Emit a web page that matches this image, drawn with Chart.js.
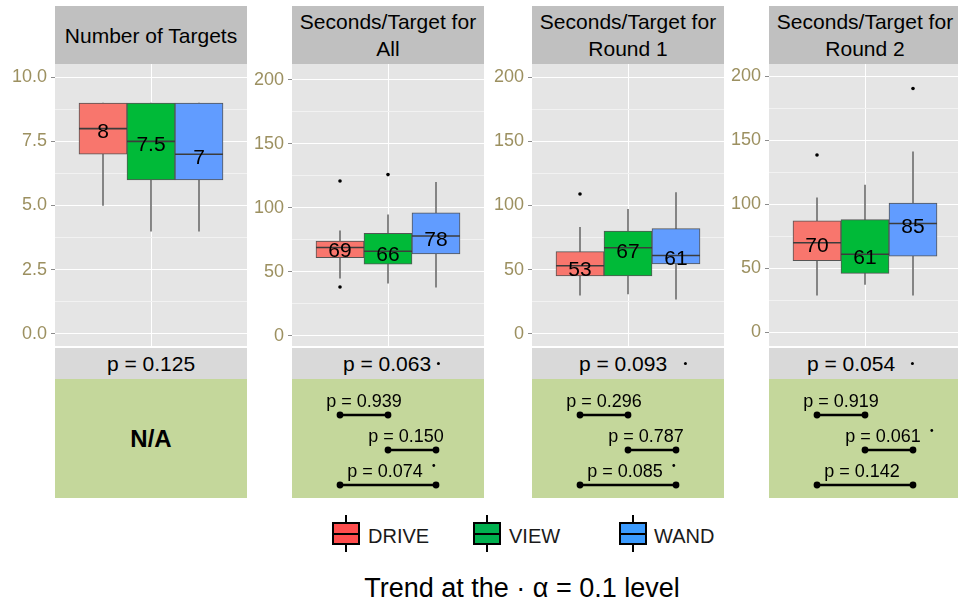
<!DOCTYPE html>
<html>
<head>
<meta charset="utf-8">
<title>Targets and seconds per target by interface</title>
<script src="https://cdn.jsdelivr.net/npm/chart.js@4.4.1/dist/chart.umd.min.js"></script>
<style>
  html, body { margin: 0; padding: 0; background: #fff; }
  body { position: relative; width: 958px; height: 607px; overflow: hidden;
         font-family: "Liberation Sans", Arial, sans-serif; color: #000; }
  .abs { position: absolute; }
  .strip-title { background: #C0C0C0; font-size: 21px; line-height: 27px; text-align: center;
                 display: flex; align-items: center; justify-content: center; white-space: pre-line; }
  .strip-p { background: #D9D9D9; }
  .strip-p .ptext { position: absolute; top: 0; font-size: 21px; line-height: 31px;
                    white-space: nowrap; transform: translateX(-50%); }
  .trend-dot { position: absolute; width: 3px; height: 3px; border-radius: 50%; background: #000; }
  .green { background: #C4D79B; }
  .na { position: absolute; left: 0; right: 0; top: 0; bottom: 0; display: flex;
        align-items: center; justify-content: center; font-weight: bold; font-size: 24px; }
  .key { position: absolute; width: 28px; height: 23px; box-sizing: border-box; border: 2px solid #000; }
  .key::before { content: ""; position: absolute; left: 0; right: 0; top: 8.5px; height: 2px; background: #000; }
  .key .stub { position: absolute; left: 11px; width: 2px; height: 7px; background: #000; }
  .legend-label { position: absolute; font-size: 20px; line-height: 24px; color: #1a1a1a; white-space: nowrap; }
  .caption { position: absolute; font-size: 27px; line-height: 30px; white-space: nowrap; transform: translateX(-50%); }
</style>
</head>
<body>
<script>
// ---------- data ----------
const groups = ['DRIVE', 'VIEW', 'WAND'];
const panelTitles = ['Number of Targets', 'Seconds/Target for\nAll',
                     'Seconds/Target for\nRound 1', 'Seconds/Target for\nRound 2'];

// box statistics per panel, one entry per group (DRIVE, VIEW, WAND)
const whiskerLow  = [[5, 4, 4],     [45, 41, 38],    [30, 31, 27],     [29, 37.5, 29]];
const q1Values    = [[7, 6, 6],     [61, 56, 64],    [45, 45, 54.5],   [56, 46, 59.5]];
const medianValues= [[8, 7.5, 7],   [69, 66, 78],    [53, 67, 61],     [70, 61, 85]];
const q3Values    = [[9, 9, 9],     [74, 80, 96],    [64, 80, 82],     [87, 88, 101]];
const whiskerHigh = [[9, 9, 9],     [82, 94.5, 120], [83, 97, 110],    [105, 115, 141]];
const outlierValues = [[[], [], []], [[121, 38], [126], []], [[109], [], []], [[138.5], [], [190.5]]];

// y axis tick spacing and label decimals per panel
const yTickStep = [2.5, 50, 50, 50];
const yTickDecimals = [1, 0, 0, 0];

// overall test per panel
const overallP = [0.125, 0.063, 0.093, 0.054];

// pairwise comparisons (group index pairs) and their p values
const comparisonPairs = [[0, 1], [1, 2], [0, 2]];
const pairwiseP = [null, [0.939, 0.150, 0.074], [0.296, 0.787, 0.085], [0.919, 0.061, 0.142]];
const trendLevel = 0.1;

// ---------- layout & style ----------
const FONT = "'Liberation Sans', Arial, sans-serif";
const panelLeft = [55, 292, 532, 769];
const PLOT_W = 192, AXIS_W = 50;
const HEAD_TOP = 6, HEAD_H = 58;
const PLOT_TOP = 64, PLOT_H = 282;
const STRIP_TOP = 348, STRIP_H = 31;
const GREEN_TOP = 379, GREEN_H = 119;
const yRange = [[-0.48, 10.52], [-8.1, 212.5], [-9.6, 210.4], [-10.7, 209.6]];
const boxColors = ['#F8766D', '#00BA38', '#619CFF'];
const legendColors = ['#FF4D4D', '#00B04F', '#3B9BFF'];
const pTextShift = [0, -1, -5, -14];
const pDotGap = [0, 7, 18, 17];
const pairLabelShift = [0, -6, -3];

function el(cls, css, parent) {
  const d = document.createElement('div');
  d.className = cls;
  Object.assign(d.style, css);
  (parent || document.body).appendChild(d);
  return d;
}
function fmtP(v) { return 'p = ' + v.toFixed(3); }

// grey plot background behind the grid
const plotBackground = {
  id: 'plotBackground',
  beforeDraw(chart) {
    const { ctx, chartArea: a } = chart;
    ctx.save();
    ctx.fillStyle = '#E5E5E5';
    ctx.fillRect(a.left, a.top, a.right - a.left, a.bottom - a.top);
    ctx.restore();
  }
};

function buildBoxChart(p) {
  const canvas = document.createElement('canvas');
  canvas.width = AXIS_W + PLOT_W; canvas.height = PLOT_H;
  Object.assign(canvas.style, { position: 'absolute', left: (panelLeft[p] - AXIS_W) + 'px', top: PLOT_TOP + 'px',
                                width: (AXIS_W + PLOT_W) + 'px', height: PLOT_H + 'px' });
  document.body.appendChild(canvas);

  const xPos = groups.map((g, i) => i - 1);
  const step = yTickStep[p];
  const isMajor = v => Math.abs(v / step - Math.round(v / step)) < 1e-6;
  const medians = medianValues[p];

  const medianLabels = {
    id: 'medianLabels',
    afterDatasetsDraw(chart) {
      const { ctx, scales: { x, y } } = chart;
      ctx.save();
      ctx.font = '21px ' + FONT;
      ctx.fillStyle = '#000';
      ctx.textAlign = 'center';
      ctx.textBaseline = 'middle';
      medians.forEach((m, i) => ctx.fillText(String(m), x.getPixelForValue(xPos[i]), y.getPixelForValue(m) + 4));
      ctx.restore();
    }
  };

  new Chart(canvas, {
    type: 'bar',
    data: {
      datasets: [
        { type: 'bar', label: 'whiskers', order: 3, grouped: false, barThickness: 1,
          data: groups.map((g, i) => ({ x: xPos[i], y: [whiskerLow[p][i], whiskerHigh[p][i]] })),
          backgroundColor: '#707070' },
        { type: 'bar', label: 'boxes', order: 2, grouped: false, barPercentage: 1, categoryPercentage: 1,
          data: groups.map((g, i) => ({ x: xPos[i], y: [q1Values[p][i], q3Values[p][i]] })),
          backgroundColor: boxColors, borderColor: '#555555', borderWidth: 1, borderSkipped: false },
        { type: 'scatter', label: 'medians', order: 1,
          data: groups.map((g, i) => ({ x: xPos[i], y: medians[i] })),
          pointStyle: 'line', pointRadius: 24, pointBorderColor: '#3C3C3C', pointBorderWidth: 1.6,
          pointBackgroundColor: '#3C3C3C', showLine: false },
        { type: 'scatter', label: 'outliers', order: 0,
          data: outlierValues[p].flatMap((list, i) => list.map(v => ({ x: xPos[i], y: v }))),
          pointRadius: 1.8, pointBackgroundColor: '#000', pointBorderWidth: 0, showLine: false }
      ]
    },
    options: {
      responsive: false, animation: false, events: [],
      layout: { padding: 0, autoPadding: false },
      plugins: { legend: { display: false }, tooltip: { enabled: false } },
      scales: {
        x: {
          type: 'linear', min: -2, max: 2, offset: false,
          ticks: { display: false, stepSize: 1 },
          grid: { offset: false, drawTicks: false, lineWidth: 1,
                  color: c => (c.tick && c.tick.value === 0) ? '#FFFFFF' : 'rgba(0,0,0,0)' },
          border: { display: false },
          afterFit(a) { a.height = 0; a.paddingLeft = 0; a.paddingRight = 0; }
        },
        y: {
          type: 'linear', min: yRange[p][0], max: yRange[p][1],
          ticks: { stepSize: step / 2, includeBounds: false, autoSkip: false, padding: 4,
                   color: '#9C9060', font: { family: FONT, size: 18 },
                   callback: v => isMajor(v) ? Number(v).toFixed(yTickDecimals[p]) : '' },
          grid: { lineWidth: 1, tickLength: 4,
                  color: c => isMajor(c.tick.value) ? '#FFFFFF' : '#F2F2F2',
                  tickColor: c => isMajor(c.tick.value) ? '#8C8C8C' : 'rgba(0,0,0,0)' },
          border: { display: false },
          afterFit(a) { a.width = AXIS_W; a.paddingTop = 0; a.paddingBottom = 0; }
        }
      }
    },
    plugins: [plotBackground, medianLabels]
  });
}

function buildPairChart(p, host) {
  const canvas = document.createElement('canvas');
  canvas.width = PLOT_W; canvas.height = GREEN_H;
  Object.assign(canvas.style, { position: 'absolute', left: '0px', top: '0px', width: PLOT_W + 'px', height: GREEN_H + 'px' });
  host.appendChild(canvas);

  const pv = pairwiseP[p];
  const pairLabels = {
    id: 'pairLabels',
    afterDatasetsDraw(chart) {
      const { ctx, scales: { x, y } } = chart;
      ctx.save();
      ctx.font = '18px ' + FONT;
      ctx.fillStyle = '#000';
      ctx.textAlign = 'center';
      ctx.textBaseline = 'alphabetic';
      comparisonPairs.forEach((pr, r) => {
        const cx = (x.getPixelForValue(pr[0] - 1) + x.getPixelForValue(pr[1] - 1)) / 2 + pairLabelShift[r];
        const base = y.getPixelForValue(r + 1) - 8.5;
        const txt = fmtP(pv[r]);
        ctx.fillText(txt, cx, base);
        if (pv[r] < trendLevel) {
          const w = ctx.measureText(txt).width;
          ctx.beginPath();
          ctx.arc(cx + w / 2 + 11, base - 11, 1.4, 0, Math.PI * 2);
          ctx.fill();
        }
      });
      ctx.restore();
    }
  };

  new Chart(canvas, {
    type: 'line',
    data: {
      datasets: comparisonPairs.map((pr, r) => ({
        label: groups[pr[0]] + ' vs ' + groups[pr[1]],
        data: [{ x: pr[0] - 1, y: r + 1 }, { x: pr[1] - 1, y: r + 1 }],
        borderColor: '#000', borderWidth: 2.6,
        pointRadius: 3.4, pointBackgroundColor: '#000', pointBorderWidth: 0
      }))
    },
    options: {
      responsive: false, animation: false, events: [],
      layout: { padding: 0, autoPadding: false },
      plugins: { legend: { display: false }, tooltip: { enabled: false } },
      scales: {
        x: { type: 'linear', min: -2, max: 2, display: false },
        y: { type: 'linear', min: -0.029, max: 3.371, reverse: true, display: false }
      }
    },
    plugins: [pairLabels]
  });
}

// ---------- panels ----------
panelTitles.forEach((title, p) => {
  const left = panelLeft[p];
  const head = el('abs strip-title', { left: left + 'px', top: HEAD_TOP + 'px', width: PLOT_W + 'px', height: HEAD_H + 'px' });
  head.textContent = title;

  buildBoxChart(p);

  const strip = el('abs strip-p', { left: left + 'px', top: STRIP_TOP + 'px', width: PLOT_W + 'px', height: STRIP_H + 'px' });
  const pt = el('ptext', { left: (PLOT_W / 2 + pTextShift[p]) + 'px' }, strip);
  pt.textContent = fmtP(overallP[p]);
  if (overallP[p] < trendLevel) {
    el('trend-dot', { left: 'calc(100% + ' + (pDotGap[p] - 1.5) + 'px)', top: '13.5px' }, pt);
  }

  const green = el('abs green', { left: left + 'px', top: GREEN_TOP + 'px', width: PLOT_W + 'px', height: GREEN_H + 'px' });
  if (pairwiseP[p]) {
    buildPairChart(p, green);
  } else {
    const na = el('na', {}, green);
    na.textContent = 'N/A';
  }
});

// ---------- legend ----------
const keyLeft = [332, 473, 619];
const labelLeft = [368, 509, 654];
groups.forEach((g, i) => {
  const key = el('key', { left: keyLeft[i] + 'px', top: '522px', background: legendColors[i] });
  el('stub', { top: '-9px' }, key);
  el('stub', { top: '21px' }, key);
  const lab = el('legend-label', { left: labelLeft[i] + 'px', top: '524px' });
  lab.textContent = g;
});

const cap = el('caption', { left: '522px', top: '573px' });
cap.textContent = 'Trend at the \u00B7 \u03B1 = 0.1 level';
</script>
</body>
</html>
